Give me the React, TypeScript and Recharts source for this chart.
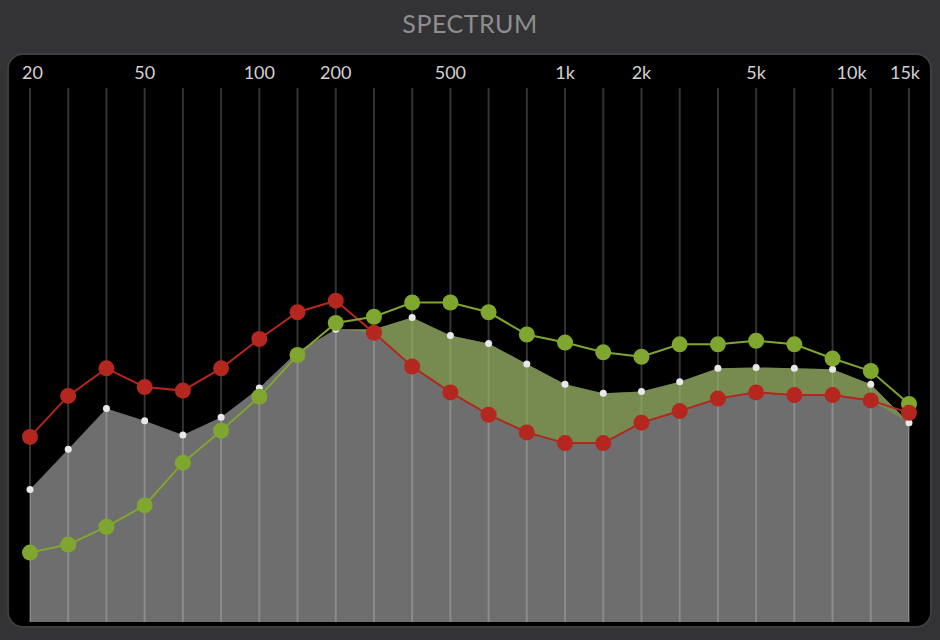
import { ComposedChart, Area, Line, XAxis, YAxis, CartesianGrid } from 'recharts'

// 24 analyser bands, labelled only at the usual frequencies
const bandLabels = ['20', '', '', '50', '', '', '100', '', '200', '', '', '500', '', '', '1k', '', '2k', '', '', '5k', '', '10k', '', '15k']

// levels in dB
const spectrum = [-45.1, -40.6, -36.0, -37.4, -39.0, -37.0, -33.7, -29.6, -27.1, -27.1, -25.8, -27.8, -28.7, -31.0, -33.3, -34.3, -34.1, -33.0, -31.5, -31.4, -31.5, -31.6, -33.3, -37.6]
const matchCurve = [-52.2, -51.3, -49.3, -46.9, -42.1, -38.5, -34.7, -30.0, -26.4, -25.7, -24.1, -24.1, -25.2, -27.7, -28.6, -29.7, -30.2, -28.8, -28.8, -28.4, -28.8, -30.4, -31.8, -35.5]
const eqCurve = [-39.2, -34.6, -31.5, -33.6, -34.0, -31.5, -28.2, -25.2, -23.9, -27.5, -31.3, -34.2, -36.7, -38.7, -39.9, -39.9, -37.6, -36.3, -34.9, -34.2, -34.5, -34.5, -35.1, -36.5]

const data = bandLabels.map((label, i) => ({
  band: i,
  label,
  spectrum: spectrum[i],
  match: matchCurve[i],
  eq: eqCurve[i],
  // part of the spectrum that sits above the eq curve
  excess: [Math.min(spectrum[i], eqCurve[i]), spectrum[i]],
}))

const GREEN = '#7fa62f'
const RED = '#b3271e'
const FONT = 'Lato, "Open Sans", sans-serif'
const W = 940
const H = 640
const MARGIN = { top: 60, right: 31, bottom: 18, left: 30 }

function BandTick(props: any) {
  const { x, y, payload } = props
  const label = bandLabels[payload.value]
  if (!label) return <g />
  let tx = x
  let anchor: 'start' | 'middle' | 'end' = 'middle'
  if (payload.value === 0) {
    tx = x - 8
    anchor = 'start'
  } else if (payload.value === bandLabels.length - 1) {
    tx = x + 11
    anchor = 'end'
  } else if (label === '10k') {
    tx = x + 19
  }
  return (
    <text x={tx} y={y - 1} textAnchor={anchor} fill="#d2d2d2" fontSize={18} fontFamily={FONT}>
      {label}
    </text>
  )
}

const NoTick = () => <g />

// the three layers share these axes so their plot areas line up
function axes(withLabels: boolean) {
  return [
    <XAxis
      key="x"
      dataKey="band"
      orientation="top"
      scale="point"
      height={28}
      interval={0}
      axisLine={false}
      tickLine={false}
      tick={withLabels ? <BandTick /> : <NoTick />}
    />,
    <YAxis key="y" hide domain={[-60, 0]} />,
  ]
}

const layer: React.CSSProperties = { position: 'absolute', left: 0, top: 0 }

export default function App() {
  return (
    <div style={{ position: 'absolute', left: 0, top: 0, width: W, height: H, background: '#333335', overflow: 'hidden' }}>
      <div
        style={{
          position: 'absolute',
          left: 0,
          top: 8,
          width: W,
          textAlign: 'center',
          color: '#8e8e8e',
          fontFamily: FONT,
          fontSize: 25,
          letterSpacing: 0.5,
        }}
      >
        SPECTRUM
      </div>
      <div
        style={{
          position: 'absolute',
          left: 7,
          top: 53,
          width: 925,
          height: 575,
          background: '#000',
          border: '2px solid #3e3e3e',
          borderRadius: 16,
          boxSizing: 'border-box',
        }}
      />

      {/* measured spectrum */}
      <div style={layer}>
        <ComposedChart width={W} height={H} data={data} margin={MARGIN}>
          {axes(true)}
          <Area
            type="linear"
            dataKey="spectrum"
            baseValue={-60}
            fill="#6e6e6e"
            fillOpacity={1}
            stroke="none"
            dot={false}
            activeDot={false}
            isAnimationActive={false}
          />
        </ComposedChart>
      </div>

      {/* band lines sit over the spectrum */}
      <div style={layer}>
        <ComposedChart width={W} height={H} data={data} margin={MARGIN}>
          {axes(false)}
          <CartesianGrid horizontal={false} stroke="#ffffff" strokeOpacity={0.2} strokeWidth={2} />
        </ComposedChart>
      </div>

      {/* curves */}
      <div style={layer}>
        <ComposedChart width={W} height={H} data={data} margin={MARGIN}>
          {axes(false)}
          <Line
            type="linear"
            dataKey="eq"
            stroke={RED}
            strokeWidth={2}
            dot={false}
            activeDot={false}
            isAnimationActive={false}
          />
          <Line
            type="linear"
            dataKey="spectrum"
            stroke="none"
            dot={{ r: 3.5, fill: '#e8e8e8', stroke: 'none' }}
            activeDot={false}
            isAnimationActive={false}
          />
          <Area
            type="linear"
            dataKey="excess"
            fill={GREEN}
            fillOpacity={0.5}
            stroke="none"
            dot={false}
            activeDot={false}
            isAnimationActive={false}
          />
          <Line
            type="linear"
            dataKey="match"
            stroke={GREEN}
            strokeWidth={2}
            dot={{ r: 8, fill: GREEN, stroke: 'none' }}
            activeDot={false}
            isAnimationActive={false}
          />
          <Line
            type="linear"
            dataKey="eq"
            stroke="none"
            dot={{ r: 8, fill: RED, stroke: 'none' }}
            activeDot={false}
            isAnimationActive={false}
          />
        </ComposedChart>
      </div>
    </div>
  )
}
